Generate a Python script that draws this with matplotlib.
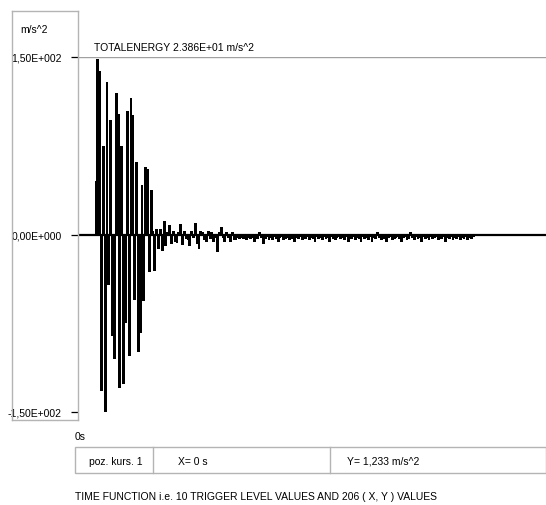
import numpy as np
import matplotlib
matplotlib.use("Agg")
import matplotlib.pyplot as plt
from matplotlib.lines import Line2D
from matplotlib.patches import Rectangle

plt.rcParams['font.family'] = ['Liberation Sans', 'DejaVu Sans']

# ---- data (sample values, m/s^2) ----
values_head = [45, 148, 138, -132, 75, -150, 129, -43, 97, -86,
               -105, 120, 102, -130, 75, -126, -75, 104, -103, 115,
               101, -55, 61, -99, -83, 42, -56, 57, 55, -32,
               38, 3, -31, 5, -12]
values_mid = [5, -14, 11, -10, 2, 8, -8, 3, -6, -7,
              2, 9, -9, 3, -4, -5, -10, 3, -3, 10,
              -8, -12, 3, 2, -5, -6, 3, -4, 2, -6,
              -3, -15, 2, 6, -3, -6, 2, -3, -6, 2,
              -5, -5, -3, -4, -3, -4, -2, -5, -3, -4]
values_tail = [-3, -6, -2, -4, 2, -3, -8, -4, -2, -5,
               -3, -5, -2, -4, -6, -3, -2, -5, -4, -3,
               -5, -2, -4, -6, -3, -4, -2, -5, -3, -4,
               -2, -5, -3, -4, -6, -2, -4, -3, -5, -2,
               -4, -3, -6, -2, -4, -5, -3, -2, -4, -3,
               -5, -2, -6, -3, -4, -2, -5, -3, -4, -6,
               -2, -4, -3, -5, -2, -6, -3, -4, 2, -3,
               -5, -2, -4, -6, -3, -2, -5, -4, -3, -2,
               -4, -6, -3, -2, -5, -4, 2, -3, -5, -2,
               -4, -3, -6, -2, -4, -3, -5, -2, -4, -3,
               -2, -5, -3, -4, -2, -6, -3, -4, -2, -5,
               -3, -4, -2, -5, -3, -4, -2, -5, -3, -4, -2]
values = values_head + values_mid + values_tail

ytick_vals = [-150, 0, 150]
ytick_labels = ["-1,50E+002", "0,00E+000", "1,50E+002"]
y_unit = "m/s^2"
energy_text = "TOTALENERGY 2.386E+01 m/s^2"
x_start_label = "0s"
cursor_cells = ["poz. kurs. 1", "X= 0 s", "Y= 1,233 m/s^2"]
caption = "TIME FUNCTION i.e. 10 TRIGGER LEVEL VALUES AND 206 ( X, Y ) VALUES"

W, H = 546, 506
FS = 7.5
fig = plt.figure(figsize=(W / 100, H / 100), dpi=100)
fig.patch.set_facecolor('white')

def fx(px):
    return px / W

def fy(py):
    return 1 - py / H

# main axes: x pixels 78..546, y pixels 58 (150) .. 413 (-150)
ax_l, ax_r, ax_t, ax_b = 78, 546, 58, 413
ax = fig.add_axes([fx(ax_l), fy(ax_b), fx(ax_r - ax_l), (ax_b - ax_t) / H])
ax.set_facecolor('none')

idx = np.arange(len(values))
px_per_sample = 1.84
xmin = -(96 - ax_l) / px_per_sample
xmax = xmin + (ax_r - ax_l) / px_per_sample
ax.bar(idx, values, width=1.55, color='black', linewidth=0, align='center')
ax.axhline(0, color='black', lw=1.6, zorder=3)
ax.axhline(150, color='#a0a0a0', lw=1.0, zorder=1)
ax.set_xlim(xmin, xmax)
ax.set_ylim(-150, 150)
for s in ax.spines.values():
    s.set_visible(False)
ax.set_xticks([])
ax.set_yticks(ytick_vals)
ax.set_yticklabels(ytick_labels, fontsize=FS)
ax.tick_params(axis='y', length=5, width=0.9, color='black', pad=6.5, direction='out')

# left label box
grey = '#b4b4b4'
box_l, box_t, box_b = 12, 12, 421
fig.add_artist(Line2D([fx(box_l), fx(ax_l)], [fy(box_t), fy(box_t)], color=grey, lw=1))
fig.add_artist(Line2D([fx(box_l), fx(box_l)], [fy(box_t), fy(box_b)], color=grey, lw=1))
fig.add_artist(Line2D([fx(box_l), fx(ax_l)], [fy(box_b), fy(box_b)], color=grey, lw=1))
fig.add_artist(Line2D([fx(ax_l), fx(ax_l)], [fy(box_t), fy(box_b)], color=grey, lw=1))

fig.text(fx(20), fy(30), y_unit, fontsize=FS, va='center', ha='left')
fig.text(fx(94), fy(48), energy_text, fontsize=FS, va='center', ha='left')

# cursor table
fig.text(fx(75), fy(437), x_start_label, fontsize=FS, va='center', ha='left')
tb_l, tb_r, tb_t, tb_b = 75, 545.5, 448, 474
fig.add_artist(Rectangle((fx(tb_l), fy(tb_b)), fx(tb_r - tb_l), (tb_b - tb_t) / H,
                         transform=fig.transFigure, fill=False, edgecolor=grey, lw=1))
for dx in [153, 330]:
    fig.add_artist(Line2D([fx(dx), fx(dx)], [fy(tb_t), fy(tb_b)], color=grey, lw=1))
for xp, txt in zip([89, 178, 347], cursor_cells):
    fig.text(fx(xp), fy(462), txt, fontsize=FS, va='center', ha='left')

fig.text(fx(75), fy(497), caption, fontsize=FS, va='center', ha='left')

fig.savefig('out.png', dpi=100, facecolor='white')
